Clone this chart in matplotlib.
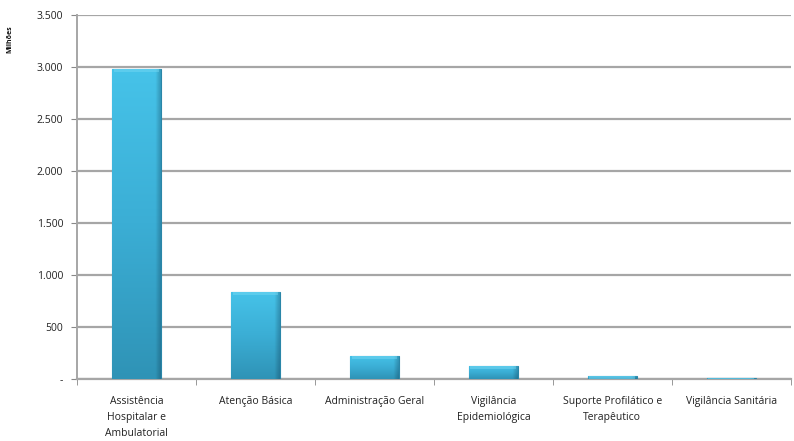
import matplotlib
matplotlib.use("Agg")
import matplotlib.pyplot as plt
import numpy as np
from matplotlib.colors import LinearSegmentedColormap

categories = [
    "Assistência\nHospitalar e\nAmbulatorial",
    "Atenção Básica",
    "Administração Geral",
    "Vigilância\nEpidemiológica",
    "Suporte Profilático e\nTerapêutico",
    "Vigilância Sanitária",
]
values = [2980, 837, 221, 125, 30, 10]
yticks = [0, 500, 1000, 1500, 2000, 2500, 3000, 3500]
ytick_labels = ["-", "500", "1.000", "1.500", "2.000", "2.500", "3.000", "3.500"]

plt.rcParams["font.family"] = ["Open Sans", "DejaVu Sans"]

fig = plt.figure(figsize=(7.94, 4.41), dpi=100)
ax = fig.add_axes([0.097, 0.1406, 0.899, 0.826])

x = np.arange(len(categories))
bars = ax.bar(x, values, width=0.41, color="#3FB8DE", edgecolor="#2A86A8",
              linewidth=0.8, zorder=3)

# vertical shading: bright cyan at the top of each bar, deeper teal at its base
vcmap = LinearSegmentedColormap.from_list("vshade", ["#2F93B6", "#3BAED5", "#46C3E9"])
vgrad = np.linspace(0, 1, 256).reshape(-1, 1)
# slight darkening towards the right side
hcmap = LinearSegmentedColormap.from_list(
    "hshade", [(0, 0, 0, 0.0), (0, 0, 0, 0.0), (0, 0.1, 0.2, 0.25)])
hgrad = np.concatenate([np.zeros(200), np.linspace(0, 1, 56)]).reshape(1, -1)
for b in bars:
    x0, w, h = b.get_x(), b.get_width(), b.get_height()
    im = ax.imshow(vgrad, cmap=vcmap, aspect="auto", origin="lower",
                   extent=[x0, x0 + w, 0, h], zorder=3.4)
    im.set_clip_path(b)
    im2 = ax.imshow(hgrad, cmap=hcmap, aspect="auto",
                    extent=[x0, x0 + w, 0, h], zorder=3.5)
    im2.set_clip_path(b)
    # light bevel along the top
    cap = min(h, 30)
    ax.bar(x0 + w / 2, cap, bottom=h - cap, width=w * 0.94,
           color="#7ADAF4", alpha=0.45, linewidth=0, zorder=4)

ax.set_xlim(-0.5, len(categories) - 0.5)
ax.set_ylim(0, 3500)
ax.set_yticks(yticks)
ax.set_yticklabels(ytick_labels, fontsize=7.5, color="#222222")
ax.yaxis.grid(True, color="#A6A6A6", linewidth=1.6, zorder=0)
ax.set_axisbelow(True)

ax.set_xticks(x)
ax.set_xticklabels(categories, fontsize=7.5, color="#222222", linespacing=1.65)
ax.tick_params(axis="x", length=0, pad=12)
ax.set_xticks(np.arange(len(categories) + 1) - 0.5, minor=True)
ax.tick_params(axis="x", which="minor", length=4, color="#888888")
ax.tick_params(axis="y", length=4, color="#888888", pad=6)

for s in ["top", "right"]:
    ax.spines[s].set_visible(False)
ax.spines["left"].set_color("#A6A6A6")
ax.spines["left"].set_linewidth(1.4)
ax.spines["bottom"].set_color("#A6A6A6")
ax.spines["bottom"].set_linewidth(1.6)

fig.text(0.013, 0.912, "Milhões", rotation=90, fontsize=5, fontweight="bold",
         ha="center", va="center", color="#111111")

fig.savefig("out.png", dpi=100)
